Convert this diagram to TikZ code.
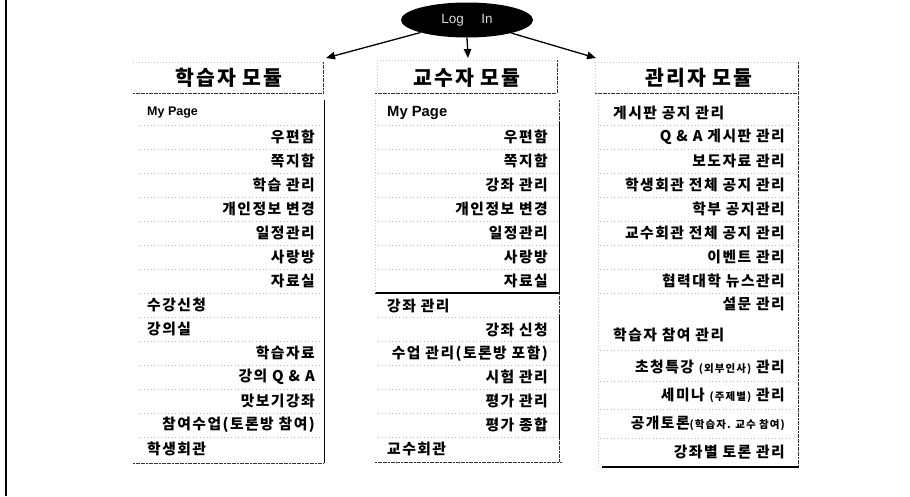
\documentclass[tikz,border=0pt]{standalone}
\usepackage{fontspec}
\newfontfamily\kr[LetterSpace=10]{Noto Sans CJK KR}
\newfontfamily\lat{Liberation Sans}
\usetikzlibrary{arrows.meta,shapes.geometric}
\begin{document}
\begin{tikzpicture}[x=1pt,y=-1pt,
  itm/.style={font=\kr\bfseries\fontsize{14.8}{16}\selectfont, inner sep=0pt},
  ri/.style={itm, anchor=east},
  le/.style={itm, anchor=west},
  hdr/.style={font=\kr\bfseries\fontsize{20.5}{22}\selectfont, inner sep=0pt},
  sep/.style={gray!55, line width=0.6pt, dash pattern=on 1pt off 2.5pt},
  faint/.style={gray!45, line width=0.6pt, dash pattern=on 1pt off 2pt},
  edge/.style={black!80, line width=0.9pt, dash pattern=on 2pt off 0.6pt},
  solidedge/.style={black, line width=1pt},
  arr/.style={-{Triangle[length=9pt,width=7.5pt]}, line width=1.3pt}]
\useasboundingbox (0,0) rectangle (910,496);
% left frame
\draw[line width=2.5pt] (6,0) -- (6,496);
% Login ellipse
\node[ellipse, fill=black, minimum width=132pt, minimum height=35pt, inner sep=0pt,
      text=white!85!black, font=\lat\fontsize{13.5}{14}\selectfont] (login) at (467,20) {Log\hspace{1.3em}In};
\coordinate (t1) at (326,58);
\coordinate (t2) at (468,58);
\coordinate (t3) at (596,58);
\draw[arr] (login) -- (t1);
\draw[arr] (login.south) -- (t2);
\draw[arr] (login) -- (t3);
% headers
\node[hdr] (h1) at (229,78) {학습자 모듈};
\node[hdr] (h2) at (467,78) {교수자 모듈};
\node[hdr] (h3) at (699,78) {관리자 모듈};
% header boxes
\draw[faint] (133,62) -- (323,62);
\draw[edge] (323,62) -- (323,93);
\draw[edge] (133,93) -- (323,93);
\draw[faint] (377,60) -- (557,60); \draw[faint] (377,60) -- (377,93);
\draw[edge] (557,60) -- (557,93);
\draw[edge] (375,93) -- (557,93);
\draw[faint] (595,62) -- (798,62); \draw[faint] (595,62) -- (595,93);
\draw[edge] (798,62) -- (798,93);
\draw[edge] (595,93) -- (798,93);
% column 1 box
\draw[solidedge] (324,100) -- (324,463);
\draw[edge] (133,463) -- (324,463);
\foreach \k in {0,...,13} \draw[sep] (140,125+24*\k) -- (322,125+24*\k);
% column 2 boxes
\draw[edge] (559,100) -- (559,122);
\draw[solidedge] (559,122) -- (559,293);
\draw[black, line width=1.3pt] (375,293) -- (559,293);
\draw[faint] (375,100) -- (375,293);
\foreach \k in {0,...,6} \draw[sep] (378,125+24*\k) -- (557,125+24*\k);
\draw[edge] (559,293) -- (559,315);
\draw[solidedge] (559,315) -- (559,438);
\draw[edge] (559,438) -- (559,462);
\draw[edge] (375,462) -- (562,462);
\foreach \k in {8,...,13} \draw[sep] (378,125+24*\k) -- (557,125+24*\k);
% column 3 box
\draw[edge] (798,93) -- (798,467);
\draw[black, line width=1.3pt] (602,467) -- (799,467);
\draw[faint] (598,100) -- (598,467);
\foreach \k in {0,...,7} \draw[sep] (600,125+24*\k) -- (796,125+24*\k);
\foreach \yy in {350,381,409,438} \draw[sep] (600,\yy) -- (796,\yy);
% column 1 items
\node[le, font=\lat\bfseries\fontsize{12.5}{13}\selectfont] (a1) at (147,113) {My Page};
\node[ri] (a2) at (315,137) {우편함};
\node[ri] (a3) at (315,161) {쪽지함};
\node[ri] (a4) at (315,185) {학습 관리};
\node[ri] (a5) at (315,209) {개인정보 변경};
\node[ri] (a6) at (315,233) {일정관리};
\node[ri] (a7) at (315,257) {사랑방};
\node[ri] (a8) at (315,281) {자료실};
\node[le] (a9) at (147,305) {수강신청};
\node[le] (a10) at (147,329) {강의실};
\node[ri] (a11) at (315,353) {학습자료};
\node[ri] (a12) at (315,377) {강의 Q \& A};
\node[ri] (a13) at (315,401) {맛보기강좌};
\node[ri] (a14) at (315,425) {참여수업(토론방 참여)};
\node[le] (a15) at (147,449) {학생회관};
% column 2 items
\node[le, font=\lat\bfseries\fontsize{14.8}{16}\selectfont] (b1) at (387,113) {My Page};
\node[ri] (b2) at (548,137) {우편함};
\node[ri] (b3) at (548,161) {쪽지함};
\node[ri] (b4) at (548,185) {강좌 관리};
\node[ri] (b5) at (548,209) {개인정보 변경};
\node[ri] (b6) at (548,233) {일정관리};
\node[ri] (b7) at (548,257) {사랑방};
\node[ri] (b8) at (548,281) {자료실};
\node[le] (b9) at (387,306) {강좌 관리};
\node[ri] (b10) at (548,330) {강좌 신청};
\node[ri] (b11) at (548,354) {수업 관리(토론방 포함)};
\node[ri] (b12) at (548,377) {시험 관리};
\node[ri] (b13) at (548,401) {평가 관리};
\node[ri] (b14) at (548,425) {평가 종합};
\node[le] (b15) at (387,449) {교수회관};
% column 3 items
\node[le] (c1) at (613,113) {게시판 공지 관리};
\node[ri] (c2) at (785,137) {Q \& A 게시판 관리};
\node[ri] (c3) at (785,161) {보도자료 관리};
\node[ri] (c4) at (785,185) {학생회관 전체 공지 관리};
\node[ri] (c5) at (785,209) {학부 공지관리};
\node[ri] (c6) at (785,233) {교수회관 전체 공지 관리};
\node[ri] (c7) at (785,257) {이벤트 관리};
\node[ri] (c8) at (785,281) {협력대학 뉴스관리};
\node[ri] (c9) at (785,304) {설문 관리};
\node[le] (c10) at (613,335) {학습자 참여 관리};
\node[ri] (c11) at (785,367) {초청특강 {\fontsize{10.5}{12}\selectfont (외부인사)} 관리};
\node[ri] (c12) at (785,395) {세미나 {\fontsize{10.5}{12}\selectfont (주제별)} 관리};
\node[ri] (c13) at (785,423) {공개토론{\fontsize{10.5}{12}\selectfont (학습자. 교수 참여)}};
\node[ri] (c14) at (785,452) {강좌별 토론 관리};
\end{tikzpicture}
\end{document}
